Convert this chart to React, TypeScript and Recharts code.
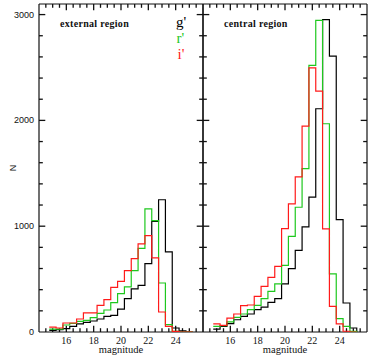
import React from 'react';
import { LineChart, Line, XAxis, YAxis, ReferenceLine } from 'recharts';

// lower edges of the 0.5-mag bins (centres 15, 15.5, ... 25)
const BIN_EDGES = [14.75, 15.25, 15.75, 16.25, 16.75, 17.25, 17.75, 18.25, 18.75, 19.25, 19.75, 20.25, 20.75, 21.25, 21.75, 22.25, 22.75, 23.25, 23.75, 24.25, 24.75];
const LAST_EDGE = 25.25;

// external region
const EXT_G = [15, 22, 31, 53, 76, 91, 104, 123, 148, 157, 217, 315, 407, 441, 646, 1046, 1250, 757, 38, 10, 0];
const EXT_R = [28, 28, 66, 81, 100, 110, 135, 176, 208, 277, 362, 426, 580, 791, 1164, 1053, 463, 69, 5, 0, 0];
const EXT_I = [47, 38, 85, 85, 123, 180, 180, 252, 306, 422, 479, 580, 693, 832, 911, 700, 189, 53, 5, 0, 0];

// central region
const CEN_G = [28, 53, 79, 116, 148, 170, 211, 236, 280, 315, 454, 599, 772, 993, 1274, 2110, 2952, 2607, 1062, 274, 38];
const CEN_R = [53, 60, 95, 138, 170, 211, 252, 315, 384, 454, 630, 904, 1179, 1545, 2520, 2945, 1968, 549, 126, 53, 5];
const CEN_I = [76, 63, 132, 170, 249, 255, 337, 431, 517, 621, 977, 1211, 1466, 1945, 2497, 2276, 974, 242, 76, 7, 0];

const X_TICKS = [14.5, 15, 15.5, 16, 16.5, 17, 17.5, 18, 18.5, 19, 19.5, 20, 20.5, 21, 21.5, 22, 22.5, 23, 23.5, 24, 24.5, 25, 25.5];
const X_LABELS = [16, 18, 20, 22, 24];
const Y_TICKS = [200, 400, 600, 800, 1000, 1200, 1400, 1600, 1800, 2000, 2200, 2400, 2600, 2800, 3000];
const Y_LABELS = [0, 1000, 2000, 3000];

const X_DOMAIN = [14, 26];
const Y_DOMAIN = [0, 3100];

// tick-mark lengths expressed in axis units (major, minor)
const X_TICK_LEN = [60, 36];
const Y_TICK_LEN = [0.46, 0.28];

const COLORS = { g: '#000000', r: '#1ec81e', i: '#ff1a1a' };
const FRAME = '#111111';

function buildRows(g: number[], r: number[], i: number[]) {
  const rows = BIN_EDGES.map((m, k) => ({ m, g: g[k], r: r[k], i: i[k] }));
  rows.push({ m: LAST_EDGE, g: 0, r: 0, i: 0 });
  return rows;
}

const extRows = buildRows(EXT_G, EXT_R, EXT_I);
const cenRows = buildRows(CEN_G, CEN_R, CEN_I);

// tick labels only (x/y = axis-line position because tickSize and tickMargin are 0)
const xLabelTick = (props: any) => {
  const { x, y, payload } = props;
  return (
    <text x={x} y={Number(y) + 11.5} textAnchor="middle" fontFamily="Liberation Serif" fontSize={10} fill="#111" stroke="none">
      {payload.value}
    </text>
  );
};

const yLabelTick = (props: any) => {
  const { x, y, payload } = props;
  return (
    <text x={Number(x) - 5} y={Number(y) + 3} textAnchor="end" fontFamily="Liberation Sans" fontSize={9} fill="#111" stroke="none">
      {payload.value}
    </text>
  );
};

function tickSegments() {
  const out: any[] = [];
  X_TICKS.forEach((v) => {
    const len = X_LABELS.includes(v) ? X_TICK_LEN[0] : X_TICK_LEN[1];
    out.push(<ReferenceLine key={`xb${v}`} ifOverflow="visible" segment={[{ x: v, y: Y_DOMAIN[0] }, { x: v, y: Y_DOMAIN[0] + len }]} stroke={FRAME} strokeWidth={1.3} />);
    out.push(<ReferenceLine key={`xt${v}`} ifOverflow="visible" segment={[{ x: v, y: Y_DOMAIN[1] }, { x: v, y: Y_DOMAIN[1] - len }]} stroke={FRAME} strokeWidth={1.3} />);
  });
  Y_TICKS.forEach((v) => {
    const len = Y_LABELS.includes(v) ? Y_TICK_LEN[0] : Y_TICK_LEN[1];
    out.push(<ReferenceLine key={`yl${v}`} ifOverflow="visible" segment={[{ x: X_DOMAIN[0], y: v }, { x: X_DOMAIN[0] + len, y: v }]} stroke={FRAME} strokeWidth={1.3} />);
    out.push(<ReferenceLine key={`yr${v}`} ifOverflow="visible" segment={[{ x: X_DOMAIN[1], y: v }, { x: X_DOMAIN[1] - len, y: v }]} stroke={FRAME} strokeWidth={1.3} />);
  });
  return out;
}

function Panel({ rows, labels, left, width, marginLeft }: any) {
  return (
    <div style={{ position: 'absolute', left, top: 0 }}>
      <LineChart width={width} height={357} data={rows} margin={{ top: 4, right: 3, bottom: 0, left: marginLeft }}>
        <XAxis
          dataKey="m"
          type="number"
          domain={X_DOMAIN}
          ticks={X_LABELS}
          interval={0}
          allowDataOverflow
          height={25}
          tickSize={0}
          tickMargin={0}
          tickLine={false}
          axisLine={false}
          tick={xLabelTick}
          label={{ value: 'magnitude', position: 'insideBottom', offset: 4, fontFamily: 'Liberation Serif', fontSize: 10.5, fill: '#111' }}
        />
        <YAxis
          type="number"
          domain={Y_DOMAIN}
          ticks={Y_LABELS}
          interval={0}
          allowDataOverflow
          width={labels ? 39 : 1}
          tickSize={0}
          tickMargin={0}
          tickLine={false}
          axisLine={false}
          tick={labels ? yLabelTick : false}
        />
        {tickSegments()}
        <ReferenceLine x={X_DOMAIN[0]} stroke={FRAME} strokeWidth={1.2} />
        <ReferenceLine x={X_DOMAIN[1]} stroke={FRAME} strokeWidth={1.2} />
        <ReferenceLine y={Y_DOMAIN[0]} stroke={FRAME} strokeWidth={1.2} />
        <ReferenceLine y={Y_DOMAIN[1]} stroke={FRAME} strokeWidth={1.2} />
        <Line type="stepAfter" dataKey="g" stroke={COLORS.g} strokeWidth={1.2} dot={false} isAnimationActive={false} />
        <Line type="stepAfter" dataKey="r" stroke={COLORS.r} strokeWidth={1.2} dot={false} isAnimationActive={false} />
        <Line type="stepAfter" dataKey="i" stroke={COLORS.i} strokeWidth={1.2} dot={false} isAnimationActive={false} />
      </LineChart>
    </div>
  );
}

export default function App() {
  return (
    <div style={{ position: 'absolute', left: 0, top: 0, width: 374, height: 357, background: '#fff', overflow: 'hidden' }}>
      <Panel rows={extRows} labels={true} left={0} width={206} marginLeft={0} />
      <Panel rows={cenRows} labels={false} left={198} width={172} marginLeft={4} />
      <svg width={374} height={357} style={{ position: 'absolute', left: 0, top: 0, pointerEvents: 'none' }}>
        <text x={12.5} y={168} transform="rotate(-90 12.5 168)" textAnchor="middle" dominantBaseline="central" fontFamily="Liberation Sans" fontSize={9} fill="#111">N</text>
        <text x={60} y={26.5} fontFamily="Liberation Serif" fontWeight="bold" fontSize={10} letterSpacing={0.3} fill="#111">external region</text>
        <text x={224} y={26.5} fontFamily="Liberation Serif" fontWeight="bold" fontSize={10} letterSpacing={0.3} fill="#111">central region</text>
        <text x={176} y={27} fontFamily="Liberation Serif" fontSize={15} fill={COLORS.g}>g'</text>
        <text x={176.5} y={43} fontFamily="Liberation Serif" fontSize={15} fill={COLORS.r}>r'</text>
        <text x={177.5} y={59} fontFamily="Liberation Serif" fontSize={15} fill={COLORS.i}>i'</text>
      </svg>
    </div>
  );
}
